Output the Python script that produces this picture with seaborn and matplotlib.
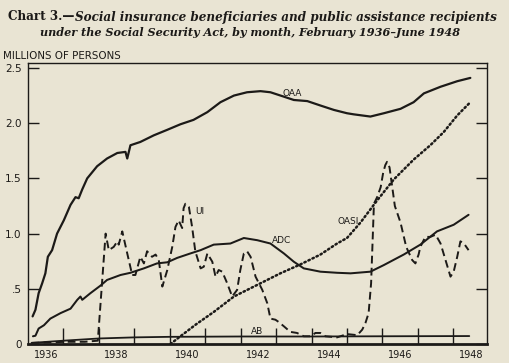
import matplotlib
matplotlib.use("Agg")
import matplotlib.pyplot as plt
import seaborn as sns

# ---------------- data (millions of persons, by decimal year) ----------------
oaa_year = [1936.13, 1936.21, 1936.30, 1936.40, 1936.49, 1936.56, 1936.68, 1936.82,
            1937.01, 1937.20, 1937.34, 1937.43, 1937.53, 1937.67, 1937.95, 1938.23,
            1938.52, 1938.75, 1938.80, 1938.89, 1939.17, 1939.55, 1939.93, 1940.30,
            1940.67, 1941.06, 1941.43, 1941.81, 1942.18, 1942.56, 1942.84, 1943.22,
            1943.50, 1943.88, 1944.25, 1944.63, 1945.00, 1945.19, 1945.66, 1946.04,
            1946.51, 1946.88, 1947.17, 1947.64, 1948.11, 1948.48]
oaa_val = [0.25, 0.31, 0.46, 0.55, 0.64, 0.79, 0.85, 1.00,
           1.12, 1.26, 1.33, 1.32, 1.40, 1.50, 1.61, 1.68,
           1.73, 1.74, 1.68, 1.80, 1.83, 1.89, 1.94, 1.99,
           2.03, 2.10, 2.19, 2.25, 2.28, 2.29, 2.28, 2.24,
           2.21, 2.20, 2.16, 2.12, 2.09, 2.08, 2.06, 2.09,
           2.13, 2.19, 2.27, 2.33, 2.38, 2.41]

adc_year = [1936.14, 1936.21, 1936.30, 1936.45, 1936.63, 1936.92, 1937.20, 1937.39,
            1937.48, 1937.53, 1937.76, 1938.05, 1938.23, 1938.61, 1938.89, 1939.27,
            1939.64, 1939.93, 1940.21, 1940.58, 1940.87, 1941.24, 1941.71, 1942.09,
            1942.47, 1942.84, 1943.22, 1943.50, 1943.78, 1944.25, 1944.72, 1945.10,
            1945.66, 1946.04, 1946.60, 1947.07, 1947.54, 1948.01, 1948.43]
adc_val = [0.07, 0.075, 0.14, 0.17, 0.23, 0.28, 0.32, 0.40,
           0.43, 0.40, 0.46, 0.53, 0.58, 0.625, 0.645, 0.685,
           0.73, 0.74, 0.78, 0.82, 0.85, 0.90, 0.91, 0.96,
           0.94, 0.91, 0.82, 0.745, 0.685, 0.655, 0.645, 0.64,
           0.655, 0.715, 0.81, 0.90, 1.02, 1.08, 1.17]

ui_year = [1936.10, 1936.60, 1937.10, 1937.60, 1937.97, 1938.19, 1938.28, 1938.42,
           1938.52, 1938.56, 1938.66, 1938.80, 1938.94, 1939.03, 1939.17, 1939.27,
           1939.36, 1939.50, 1939.60, 1939.69, 1939.79, 1939.93, 1940.07, 1940.16,
           1940.25, 1940.35, 1940.39, 1940.44, 1940.54, 1940.63, 1940.72, 1940.87,
           1940.96, 1941.06, 1941.20, 1941.29, 1941.38, 1941.48, 1941.62, 1941.76,
           1941.90, 1941.99, 1942.09, 1942.18, 1942.28, 1942.42, 1942.61, 1942.75,
           1942.84, 1942.98, 1943.07, 1943.22, 1943.40, 1943.59, 1943.78, 1943.97,
           1944.11, 1944.25, 1944.39, 1944.72, 1945.00, 1945.29, 1945.43, 1945.52,
           1945.61, 1945.68, 1945.76, 1945.85, 1945.95, 1946.02, 1946.08, 1946.13,
           1946.20, 1946.35, 1946.51, 1946.67, 1946.84, 1946.93, 1947.02, 1947.07,
           1947.21, 1947.35, 1947.50, 1947.64, 1947.78, 1947.92, 1948.01, 1948.11,
           1948.20, 1948.30, 1948.43]
ui_val = [0.01, 0.015, 0.02, 0.02, 0.03, 1.00, 0.85, 0.88,
          0.93, 0.90, 1.02, 0.82, 0.625, 0.625, 0.79, 0.73,
          0.84, 0.79, 0.81, 0.76, 0.52, 0.67, 0.88, 1.06,
          1.12, 1.05, 1.23, 1.27, 1.24, 1.06, 0.84, 0.685,
          0.70, 0.82, 0.745, 0.61, 0.67, 0.655, 0.55, 0.43,
          0.49, 0.67, 0.82, 0.84, 0.79, 0.61, 0.49, 0.37,
          0.23, 0.22, 0.20, 0.16, 0.11, 0.10, 0.07, 0.07,
          0.10, 0.10, 0.07, 0.06, 0.09, 0.08, 0.13, 0.19,
          0.28, 0.55, 1.27, 1.33, 1.42, 1.55, 1.62, 1.65,
          1.60, 1.25, 1.10, 0.88, 0.76, 0.73, 0.81, 0.88,
          0.97, 0.97, 0.99, 0.91, 0.76, 0.61, 0.655, 0.79,
          0.93, 0.91, 0.85]

oasi_year = [1940.02, 1940.30, 1940.75, 1941.24, 1941.81, 1942.56, 1943.12, 1943.68,
             1944.25, 1944.72, 1945.00, 1945.38, 1945.85, 1946.32, 1946.88, 1947.35,
             1947.73, 1948.11, 1948.48]
oasi_val = [0.0, 0.07, 0.18, 0.29, 0.43, 0.55, 0.64, 0.72,
            0.81, 0.91, 0.96, 1.10, 1.30, 1.49, 1.67, 1.80,
            1.92, 2.07, 2.19]

ab_year = [1936.10, 1937.00, 1938.00, 1939.00, 1940.00, 1942.00, 1944.00, 1946.00, 1948.45]
ab_val = [0.01, 0.03, 0.05, 0.06, 0.065, 0.068, 0.068, 0.07, 0.072]

y_ticks = [0, 0.5, 1.0, 1.5, 2.0, 2.5]
y_labels = ["0", ".5", "1.0", "1.5", "2.0", "2.5"]
year_ticks = list(range(1937, 1949))
year_label_pos = [1936.5, 1938.5, 1940.5, 1942.5, 1944.5, 1946.5, 1948.5]
year_labels = ["1936", "1938", "1940", "1942", "1944", "1946", "1948"]

title_head = "Chart 3.—"
title_line1 = "Social insurance beneficiaries and public assistance recipients"
title_line2 = "under the Social Security Act, by month, February 1936–June 1948"

# ---------------- style ----------------
sns.set_theme(style="ticks")
plt.rcParams['font.family'] = ['DejaVu Sans']
paper = '#e9e4d3'
ink = '#1c1a18'

fig = plt.figure(figsize=(5.09, 3.63), dpi=100, facecolor=paper)
ax = fig.add_axes([28 / 509, 1 - 344 / 363, 459 / 509, 281 / 363])
ax.set_facecolor(paper)

sns.lineplot(x=oaa_year, y=oaa_val, ax=ax, color=ink, lw=1.6)
sns.lineplot(x=adc_year, y=adc_val, ax=ax, color=ink, lw=1.45)
sns.lineplot(x=ui_year, y=ui_val, ax=ax, color=ink, lw=1.4, linestyle=(0, (4, 2.2)))
sns.lineplot(x=oasi_year, y=oasi_val, ax=ax, color=ink, lw=1.8,
             linestyle=(0, (0.6, 1.2)), dash_capstyle='round')
sns.lineplot(x=ab_year, y=ab_val, ax=ax, color=ink, lw=1.3)

ax.set_xlim(1936.0, 1948.95)
ax.set_ylim(0, 2.545)

for side in ['left', 'top', 'right']:
    ax.spines[side].set_linewidth(1.0)
    ax.spines[side].set_color(ink)
ax.spines['bottom'].set_linewidth(2.0)
ax.spines['bottom'].set_color(ink)

ax.set_yticks(y_ticks)
ax.set_yticklabels(y_labels)
ax.tick_params(axis='y', direction='in', length=8, width=1.0, left=True, right=True,
               labelsize=7.5, pad=4.5, colors=ink)
ax.set_xticks(year_ticks)
ax.set_xticklabels([])
ax.set_xticks(year_label_pos, minor=True)
ax.set_xticklabels(year_labels, minor=True)
ax.tick_params(axis='x', which='major', direction='in', length=11.5, width=1.0, colors=ink)
ax.tick_params(axis='x', which='minor', length=0, labelsize=7, pad=4, colors=ink)
ax.set_xlabel("")
ax.set_ylabel("")

lab = dict(fontsize=6.5, color=ink, ha='center', va='center')
ax.text(1943.46, 2.27, "OAA", **lab)
ax.text(1940.84, 1.20, "UI", **lab)
ax.text(1943.15, 0.94, "ADC", **lab)
ax.text(1945.03, 1.11, "OASI", **lab)
ax.text(1942.47, 0.11, "AB", **lab)

fig.text(3 / 509, 1 - 56 / 363, "MILLIONS OF PERSONS", fontsize=7.4, color=ink,
         ha='left', va='center')

# ---- title: fit the two lines to the reference widths ----
serif = ['DejaVu Serif']
r = fig.canvas.get_renderer()
base = 10.0
probe_h = fig.text(0, 0, title_head, family=serif, fontweight='bold', fontsize=base)
probe_1 = fig.text(0, 0, title_line1, family=serif, fontweight='bold',
                   fontstyle='italic', fontsize=base)
probe_2 = fig.text(0, 0, title_line2, family=serif, fontweight='bold',
                   fontstyle='italic', fontsize=base)
w_h = probe_h.get_window_extent(r).width
w_1 = probe_1.get_window_extent(r).width
w_2 = probe_2.get_window_extent(r).width
for p in (probe_h, probe_1, probe_2):
    p.remove()
s1 = base * 492 / (w_h + w_1 + 1)
s2 = base * 424 / w_2

t0 = fig.text(8 / 509, 1 - 17 / 363, title_head, family=serif, fontweight='bold',
              fontsize=s1, color=ink, ha='left', va='center')
bb = t0.get_window_extent(r)
fig.text((bb.x1 + 1) / 509, 1 - 17 / 363, title_line1,
         family=serif, fontweight='bold', fontstyle='italic', fontsize=s1, color=ink,
         ha='left', va='center')
fig.text(250 / 509, 1 - 33 / 363, title_line2,
         family=serif, fontweight='bold', fontstyle='italic', fontsize=s2, color=ink,
         ha='center', va='center')

fig.savefig("out.png", dpi=100, facecolor=paper)
